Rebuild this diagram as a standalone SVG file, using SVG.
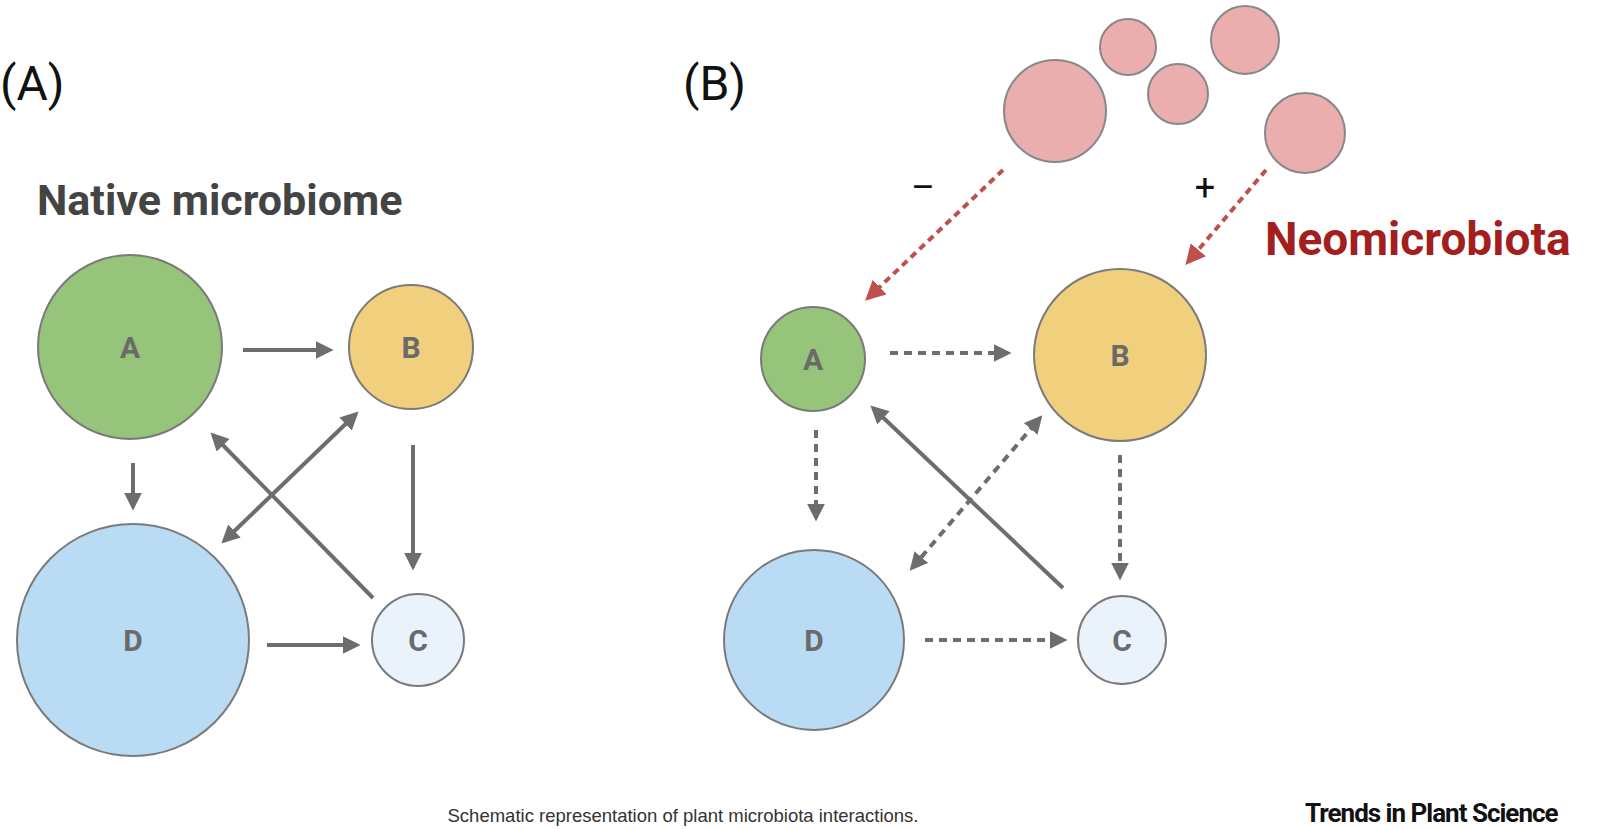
<svg xmlns="http://www.w3.org/2000/svg" width="1600" height="829" viewBox="0 0 1600 829">
<style>
.n{stroke:#7a7a7a;stroke-width:2}
.lb{font-family:Roboto,"Liberation Sans",sans-serif;font-weight:bold;font-size:30px;fill:#6a6a6a;text-anchor:middle}
.g{stroke:#6d6d6d;stroke-width:4;fill:none}
.d{stroke-dasharray:8 6}
.r{stroke:#c0504d;stroke-width:4;fill:none;stroke-dasharray:7 5}
.p{fill:#ebaeae;stroke:#888;stroke-width:2}
</style>
<defs>
<marker id="ah" viewBox="0 0 10 10" refX="8" refY="5" markerWidth="4.5" markerHeight="4.5" orient="auto-start-reverse"><path d="M0,0L10,5L0,10z" fill="#6d6d6d"/></marker>
<marker id="rh" viewBox="0 0 10 10" refX="8" refY="5" markerWidth="5" markerHeight="5" orient="auto"><path d="M0,0L10,5L0,10z" fill="#c0504d"/></marker>
</defs>
<rect width="1600" height="829" fill="#fff"/>
<text x="0" y="100" font-family="Roboto,'Liberation Sans',sans-serif" font-size="48" fill="#111">(A)</text>
<text x="683" y="100" font-family="Roboto,'Liberation Sans',sans-serif" font-size="48" fill="#111">(B)</text>
<text x="37" y="215" font-family="Roboto,'Liberation Sans',sans-serif" font-weight="bold" font-size="43" fill="#444">Native microbiome</text>
<text x="1265" y="255" font-family="Roboto,'Liberation Sans',sans-serif" font-weight="bold" font-size="46" fill="#a31f1f">Neomicrobiota</text>
<text x="923" y="200" font-family="Roboto,'Liberation Sans',sans-serif" font-size="36" fill="#111" text-anchor="middle">–</text>
<text x="1205" y="200" font-family="Roboto,'Liberation Sans',sans-serif" font-size="36" fill="#111" text-anchor="middle">+</text>
<g id="pinks">
<circle class="p" cx="1055" cy="111" r="51"/><circle class="p" cx="1128" cy="47" r="28"/><circle class="p" cx="1178" cy="94" r="30"/><circle class="p" cx="1245" cy="40" r="34"/><circle class="p" cx="1305" cy="133" r="40"/>
</g>
<g id="nodeA1"><circle class="n" cx="130" cy="347" r="92" fill="#95c47a"/><text class="lb" x="130" y="358">A</text></g>
<g id="nodeB1"><circle class="n" cx="411" cy="347" r="62" fill="#f0cf7d"/><text class="lb" x="411" y="358">B</text></g>
<g id="nodeD1"><circle class="n" cx="133" cy="640" r="116" fill="#b9dbf3"/><text class="lb" x="133" y="651">D</text></g>
<g id="nodeC1"><circle class="n" cx="418" cy="640" r="46" fill="#eaf2fb"/><text class="lb" x="418" y="651">C</text></g>
<g id="nodeA2"><circle class="n" cx="813" cy="359" r="52" fill="#95c47a"/><text class="lb" x="813" y="370">A</text></g>
<g id="nodeB2"><circle class="n" cx="1120" cy="355" r="86" fill="#f0cf7d"/><text class="lb" x="1120" y="366">B</text></g>
<g id="nodeD2"><circle class="n" cx="814" cy="640" r="90" fill="#b9dbf3"/><text class="lb" x="814" y="651">D</text></g>
<g id="nodeC2"><circle class="n" cx="1122" cy="640" r="44" fill="#eaf2fb"/><text class="lb" x="1122" y="651">C</text></g>
<g id="connectors">
<line class="g" x1="243" y1="350" x2="330" y2="350" marker-end="url(#ah)"/>
<line class="g" x1="133" y1="463" x2="133" y2="507" marker-end="url(#ah)"/>
<line class="g" x1="413" y1="445" x2="413" y2="567" marker-end="url(#ah)"/>
<line class="g" x1="267" y1="645" x2="357" y2="645" marker-end="url(#ah)"/>
<line class="g" x1="373" y1="598" x2="213" y2="435" marker-end="url(#ah)"/>
<line class="g" x1="224" y1="541" x2="356" y2="414" marker-start="url(#ah)" marker-end="url(#ah)"/>
<line class="g d" x1="890" y1="353" x2="1008" y2="353" marker-end="url(#ah)"/>
<line class="g d" x1="816" y1="430" x2="816" y2="518" marker-end="url(#ah)"/>
<line class="g d" x1="1120" y1="455" x2="1120" y2="577" marker-end="url(#ah)"/>
<line class="g d" x1="925" y1="640" x2="1064" y2="640" marker-end="url(#ah)"/>
<line class="g d" x1="912" y1="568" x2="1040" y2="418" marker-start="url(#ah)" marker-end="url(#ah)"/>
<line class="g" x1="1063" y1="588" x2="873" y2="408" marker-end="url(#ah)"/>
<line class="r" x1="1003" y1="170" x2="868" y2="298" marker-end="url(#rh)"/>
<line class="r" x1="1266" y1="170" x2="1188" y2="262" marker-end="url(#rh)"/>
</g>
<text x="683" y="822" font-family="'Liberation Sans',sans-serif" font-size="18.5" fill="#333" text-anchor="middle">Schematic representation of plant microbiota interactions.</text>
<text x="1305" y="822" font-family="Roboto,'Liberation Sans',sans-serif" font-weight="bold" font-size="26" fill="#111" letter-spacing="-1">Trends in Plant Science</text>
</svg>
